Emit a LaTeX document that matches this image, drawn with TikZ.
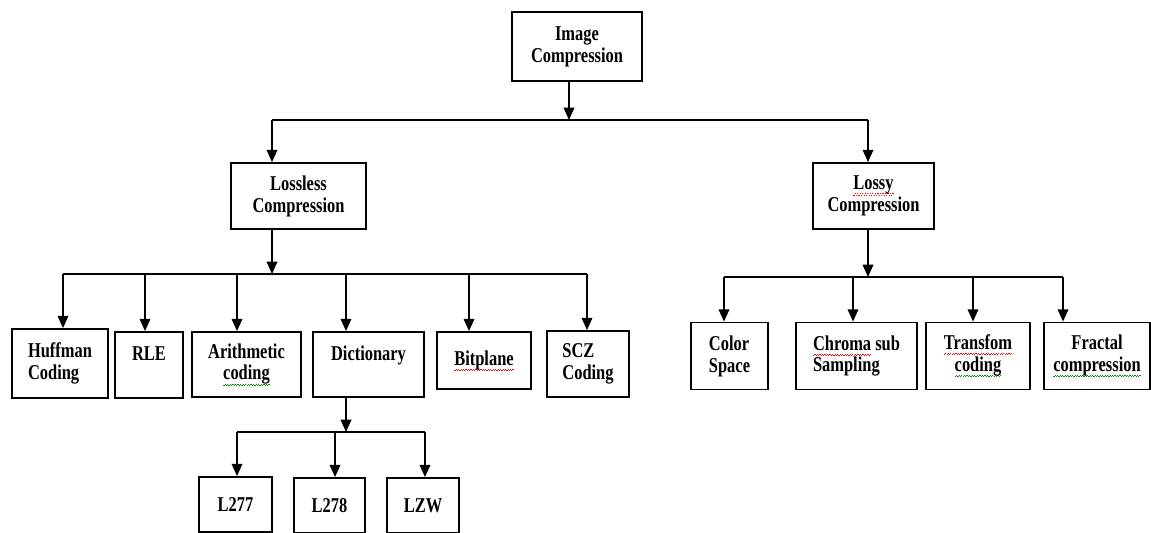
\documentclass[tikz,border=0pt]{standalone}
\usepackage{fontspec}
\setmainfont{Liberation Serif}[FakeStretch=0.78]
\usetikzlibrary{arrows.meta}

% vlnovka pod slovem (jako kontrola pravopisu)
\newcommand\wavy[2]{\leavevmode\setbox0=\hbox{#2}\rlap{\color{#1}\raisebox{-3.2pt}{\hbox to \wd0{\xleaders\hbox{\rule{0.7pt}{0.45pt}\raisebox{0.65pt}{\rule{0.7pt}{0.45pt}}}\hfill}}}\box0\relax}
\newcommand\redwave[1]{\wavy{red}{#1}}
\newcommand\greenwave[1]{\wavy{green!55!black}{#1}}

\begin{document}
\begin{tikzpicture}[x=0.02cm, y=-0.02cm, line width=1pt,
        box/.style={draw, line width=1pt, align=center, inner sep=1pt,
            font=\bfseries\fontsize{12}{12.5}\selectfont},
        >={Triangle[length=7pt, width=6pt]}]
        \useasboundingbox (0,0) rectangle (1151,533);

        % horní úroveň
        \node[box, minimum width=2.6cm, minimum height=1.38cm] (img) at (577,46.5) {Image\\Compression};
        \node[box, minimum width=2.7cm, minimum height=1.32cm] (lossless) at (298.5,196) {Lossless\\Compression};
        \node[box, minimum width=2.42cm, minimum height=1.32cm] (lossy) at (873.5,196) {\redwave{Lossy}\\Compression};

        % bezeztrátové metody
        \node[box, align=left, minimum width=1.92cm, minimum height=1.38cm] (huff) at (60,363.5) {Huffman\\Coding};
        \node[box, minimum width=1.36cm, minimum height=1.32cm] (rle) at (149,365) {RLE\\\mbox{}};
        \node[box, minimum width=2.18cm, minimum height=1.3cm] (arith) at (246.5,364.5) {Arithmetic\\\greenwave{coding}};
        \node[box, minimum width=2.22cm, minimum height=1.3cm] (dict) at (368.5,364.5) {Dictionary\\\mbox{}};
        \node[box, minimum width=1.88cm, minimum height=1.14cm] (bitp) at (484,360.5) {\redwave{Bitplane}};
        \node[box, align=left, minimum width=1.64cm, minimum height=1.32cm] (scz) at (588,364) {SCZ\\Coding};

        % slovníkové metody
        \node[box, minimum width=1.46cm, minimum height=1.1cm] (lz1) at (235.5,504.5) {L277};
        \node[box, minimum width=1.42cm, minimum height=1.1cm] (lz2) at (329.5,505.5) {L278};
        \node[box, minimum width=1.44cm, minimum height=1.1cm] (lzw) at (423,505.5) {LZW};

        % ztrátové metody
        \node[box, align=left, minimum width=1.54cm, minimum height=1.34cm] (color) at (729.5,356) {Color\\Space};
        \node[box, align=left, minimum width=2.42cm, minimum height=1.34cm] (chroma) at (856.5,356) {\redwave{Chroma} sub\\Sampling};
        \node[box, minimum width=2.08cm, minimum height=1.34cm] (transf) at (978,356) {\redwave{Transfom}\\\greenwave{coding}};
        \node[box, minimum width=2.12cm, minimum height=1.34cm] (fract) at (1097,356) {Fractal\\\greenwave{compression}};

        % rozdělení pod Image Compression
        \coordinate (top) at (569,120);
        \draw[->] (top |- img.south) -- (top);
        \draw (272,120) coordinate (tl) -- (868,120) coordinate (tr);
        \draw[->] (tl) -- (tl |- lossless.north);
        \draw[->] (tr) -- (tr |- lossy.north);

        % větev Lossless
        \coordinate (ls) at (272,274);
        \draw[->] (ls |- lossless.south) -- (ls);
        \draw (63,274) -- (587,274);
        \foreach \xx/\nd in {63/huff, 145/rle, 237/arith, 346/dict, 469/bitp, 587/scz} {
            \coordinate (a\nd) at (\xx,274);
            \draw[->] (a\nd) -- (a\nd |- \nd.north);
        }

        % větev Dictionary
        \coordinate (ds) at (346,432);
        \draw[->] (ds |- dict.south) -- (ds);
        \draw (237,432) -- (425,432);
        \foreach \xx/\nd in {237/lz1, 335/lz2, 425/lzw} {
            \coordinate (a\nd) at (\xx,432);
            \draw[->] (a\nd) -- (a\nd |- \nd.north);
        }

        % větev Lossy
        \coordinate (rs) at (868,277);
        \draw[->] (rs |- lossy.south) -- (rs);
        \draw (724,277) -- (1063,277);
        \foreach \xx/\nd in {724/color, 853/chroma, 973/transf, 1063/fract} {
            \coordinate (a\nd) at (\xx,277);
            \draw[->] (a\nd) -- (a\nd |- \nd.north);
        }

    \end{tikzpicture}
\end{document}
